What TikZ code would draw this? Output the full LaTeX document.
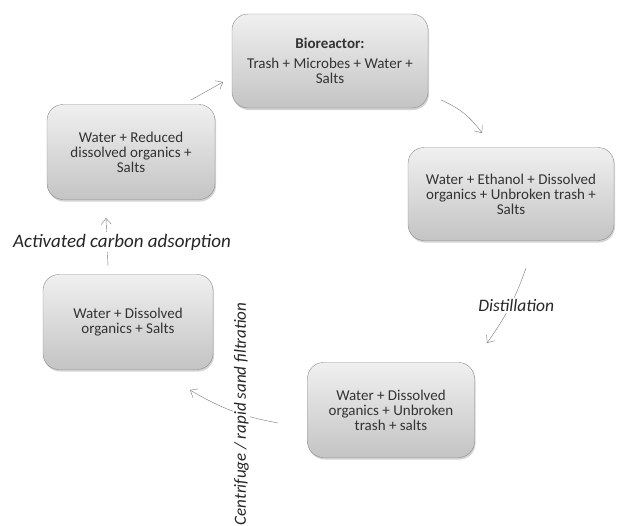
\documentclass[tikz,border=0pt]{standalone}
\usepackage{fontspec}
\setmainfont{Carlito}
\usetikzlibrary{positioning, calc, arrows.meta, shadows}
\definecolor{edge}{RGB}{140,140,140}
\definecolor{wire}{RGB}{120,120,120}
\definecolor{shadetop}{RGB}{240,240,240}
\definecolor{shadebot}{RGB}{196,196,196}
\tikzset{
  stage/.style={draw=edge,rounded corners=16pt,top color=shadetop,
    bottom color=shadebot,align=center,text=black!80,
    font=\fontsize{15}{15}\selectfont,
    drop shadow={opacity=0.35,shadow xshift=1pt,shadow yshift=-2pt}},
  flow/.style={-{Straight Barb[length=6pt,width=10pt]},wire,thin},
  steplbl/.style={font=\fontsize{17.5}{20}\selectfont\itshape,text=black!85,
    fill=white,inner sep=1.5pt},
}

\begin{document}
\begin{tikzpicture}[x=1pt,y=-1pt]
  \useasboundingbox (0,0) rectangle (618,525);
  % the five stages of the loop
  \node[stage,minimum width=196pt,minimum height=94pt] (bio) at (330,61)
    {\textbf{Bioreactor:}\\[5pt]Trash + Microbes + Water +\\Salts};
  \node[stage,minimum width=206pt,minimum height=93pt] (ferm) at (511,194)
    {Water + Ethanol + Dissolved\\organics + Unbroken trash +\\Salts};
  \node[stage,minimum width=167pt,minimum height=95pt] (still) at (391,410)
    {Water + Dissolved\\organics + Unbroken\\trash + salts};
  \node[stage,minimum width=170pt,minimum height=95pt] (clear) at (128,322)
    {Water + Dissolved\\organics + Salts};
  \node[stage,minimum width=168pt,minimum height=95pt] (clean) at (131,152)
    {Water + Reduced\\dissolved organics +\\Salts};
  % free arrow ends
  \coordinate (cleanOut) at (191,100);
  \coordinate (bioIn) at (223,82);
  \coordinate (bioOut) at (441,100);
  \coordinate (fermIn) at (482,133);
  \coordinate (fermOut) at (526,268);
  \coordinate (stillIn) at (487,343);
  \coordinate (stillOut) at (278,423);
  \coordinate (clearIn) at (190,390);
  \coordinate (clearOut) at (108,266);
  \coordinate (cleanIn) at (106,218);
  % arrows
  \draw[flow] (cleanOut) -- (bioIn);
  \draw[flow] (bioOut) to[bend left=15] (fermIn);
  \draw[flow] (fermOut) to[bend left=8]
    node[steplbl,pos=0.48,xshift=6pt]{Distillation} (stillIn);
  \draw[flow] (stillOut) to[bend left=10]
    node[steplbl,rotate=90,pos=0.4,yshift=-1pt,
      font=\fontsize{17}{20}\selectfont\itshape]
    {Centrifuge / rapid sand filtration} (clearIn);
  \draw[flow] (clearOut) --
    node[steplbl,xshift=15pt,font=\fontsize{19}{22}\selectfont\itshape]
    {Activated carbon adsorption} (cleanIn);
\end{tikzpicture}
\end{document}
